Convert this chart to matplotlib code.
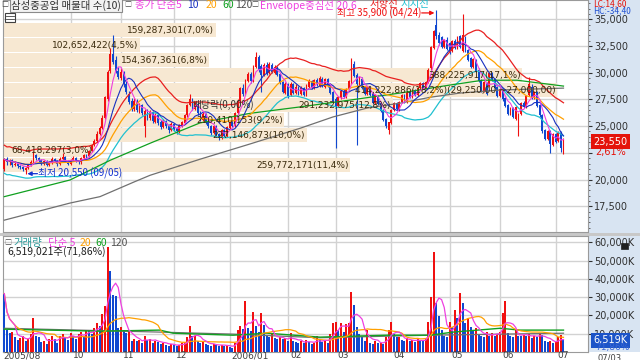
import numpy as np
import pandas as pd
import matplotlib
matplotlib.use("Agg")
import matplotlib.pyplot as plt
from matplotlib.patches import Rectangle
from matplotlib.lines import Line2D
from matplotlib.transforms import blended_transform_factory as blend

plt.rcParams['font.family'] = ['DejaVu Sans']
KR = ['Noto Sans CJK KR', 'DejaVu Sans']

# ---------------- data (prices in hundreds of won) ----------------
opens = [210,219,216,218,214,215,213,212,209,211, 214,216,223,220,218,215,217,214,216,219,
         217,215,219,221,217,215,218,220,217,216, 220,223,222,227,232,236,243,248,258,275,
         302,318,312,302,295,300,289,280,274,266, 273,264,270,250,264,258,263,254,260,254,
         249,255,251,246,252,248,245,250,253,260, 270,274,266,271,263,256,261,255,250,244,
         250,243,239,246,241,248,254,250,262,274, 286,280,292,299,292,305,315,306,298,307,
         300,307,300,304,299,291,281,289,279,289, 281,286,280,286,279,287,292,286,293,288,
         294,287,294,289,282,275,269,276,283,277, 285,290,308,298,289,294,287,280,287,280,
         272,278,272,265,257,246,253,265,272,265, 273,279,273,282,277,284,279,286,290,286,
         291,304,323,345,335,333,324,331,328,320, 330,323,334,320,332,321,314,305,312,303,
         293,283,290,288,300,294,287,278,285,276, 270,261,267,257,248,261,272,268,279,287,
         276,282,270,260,246,238,245,232,243,236, 244,230]
highs = [220,221,219,219,217,216,214,213,212,215, 218,227,224,221,219,218,218,217,221,220,
         218,221,225,222,218,219,222,221,218,221, 224,224,228,233,238,245,250,260,278,303,
         323,335,316,305,304,302,292,283,276,276, 275,272,271,266,266,265,264,262,261,256,
         257,256,252,254,253,249,252,255,261,271, 280,276,274,273,264,263,262,256,251,251,
         251,244,247,247,250,255,256,263,275,287, 289,294,301,301,307,319,317,308,309,310,
         310,309,307,306,300,292,291,290,291,290, 289,288,288,287,289,294,293,294,295,297,
         296,295,295,290,283,277,278,284,285,286, 293,314,311,300,297,296,288,288,288,281,
         280,279,273,266,258,254,266,273,273,274, 280,280,283,283,285,285,287,291,291,292,
         304,325,340,359,338,334,332,333,329,331, 332,334,335,355,334,322,315,314,313,304,
         294,292,291,301,301,295,288,286,286,277, 271,268,268,269,262,273,274,279,296,289,
         283,283,271,261,247,246,246,244,244,245, 245,239]
lows = [208,214,214,212,213,211,210,208,205.5,210, 213,215,218,216,214,214,213,213,215,216,
        213,214,218,216,214,214,217,216,215,215, 219,220,221,226,231,235,242,247,257,274,
        300,308,300,294,293,287,280,271,264,264, 263,262,260,240,256,256,253,253,251,247,
        248,248,244,245,245,243,244,249,252,259, 269,265,265,260,255,255,252,248,242,243,
        240,237,238,240,240,247,249,249,261,273, 278,279,291,290,291,304,301,282,297,298,
        299,300,299,297,289,281,280,276,278,280, 280,279,279,278,278,286,285,285,288,287,
        287,286,287,280,273,230,268,275,276,276, 284,289,296,232,288,285,279,279,278,271,
        271,270,263,255,248,243,252,264,265,264, 272,272,272,276,276,278,278,285,285,285,
        290,303,322,332,326,323,323,321,318,319, 322,322,323,319,319,311,304,304,301,291,
        282,282,279,287,292,285,277,277,274,268, 260,260,258,256,241,260,267,267,278,275,
        275,268,259,244,237,237,225,231,234,235, 226,224]
closes = [219,216,218,214,215,213,212,210,211,214, 216,223,220,218,215,217,214,216,219,217,
          215,219,221,217,215,218,220,217,216,220, 223,222,227,232,236,243,248,258,277,301,
          318,310,302,296,301,289,282,273,266,274, 265,270,262,264,258,263,255,260,253,249,
          255,250,246,252,247,245,251,254,260,270, 275,267,273,262,257,261,254,250,244,250,
          242,239,246,241,249,254,250,262,274,286, 280,293,299,292,306,315,303,298,307,300,
          308,301,305,298,290,282,289,278,289,281, 287,280,286,279,288,292,286,293,289,295,
          288,294,288,281,274,268,277,283,277,285, 292,309,297,289,295,286,280,287,279,272,
          279,271,264,256,250,254,265,272,266,273, 279,273,282,277,284,279,286,290,286,291,
          303,324,339,334,328,324,331,322,319,330, 323,333,324,335,320,312,305,313,302,292,
          283,291,280,300,293,286,278,285,275,269, 261,267,259,268,261,272,268,278,289,276,
          282,269,260,245,238,245,233,243,235,244, 229.5,235.5]
# volume in thousands of shares
volumes_k = [32000,12000,10500,11000,8000,6500,7500,9000,6000,7000,
             10000,18500,9000,8000,5500,6000,4500,7000,8500,7000,
             5000,9000,10000,8000,6500,10500,9000,7000,10000,11000,
             9000,12000,11500,10000,13000,16000,14000,21000,25000,57600,
             44500,31000,30500,13000,13600,12000,10500,11000,6000,7000,
             6000,6500,5000,8500,6500,7000,5000,6000,5500,4500,
             5200,4000,3500,4500,3800,3200,4000,4800,5600,8000,
             14000,8500,9000,6000,5000,6000,4500,4000,3500,4500,
             3800,3400,4000,3200,3800,3000,2000,5000,12000,14000,
             12500,28000,13000,11500,21700,14500,11000,21500,14700,9000,
             8000,10500,7500,7000,8000,7000,7600,6000,10500,6000,
             5500,5000,6000,5000,6500,5500,4500,5000,8500,6500,
             5500,6500,5000,10000,15700,16500,12000,16000,11000,15500,
             16000,33000,25500,13500,10000,8000,6000,12000,5000,4500,
             6000,4800,5200,4500,8000,12000,16300,10000,8000,8200,
             6500,6000,7500,6000,6500,5500,7000,6500,6000,7000,
             16300,30000,55000,27000,19500,12000,8500,8000,16300,13600,
             23000,18500,32600,26600,15700,18500,13500,12000,13000,9500,
             8700,8000,11000,9000,10500,9000,10000,11000,21200,27700,
             10300,9000,8000,12000,9000,8500,9500,8500,10000,7500,
             9000,8000,10000,9500,6000,5500,6000,5000,5500,8000,
             9072,6519.021]

# long moving averages (index, value)
ma60_idx = [0, 24.8, 39.9, 55, 73.8, 92.7, 111.6, 130.4, 149.3, 168.2, 180.6, 193.5, 211]
ma60_val = [18400, 19960, 21800, 23400, 25300, 26200, 26800, 27440, 28100, 28850, 29300, 29300, 28750]
ma120_idx = [0, 24.8, 36.1, 49.2, 55, 73.8, 92.7, 111.6, 124, 137, 149.3, 160.6, 172, 187, 211]
ma120_val = [16200, 17800, 18400, 19800, 20400, 21900, 23330, 24800, 25860, 26700, 27150, 27700, 28100, 28380, 28560]
vol_ma60_idx = [0, 36.1, 58.7, 63.7, 86.3, 99.1, 119.1, 144.4, 160.6, 169.3, 187.1, 194.6, 211]
vol_ma60_val = [12500, 11400, 12000, 10300, 9200, 10300, 8150, 9200, 9200, 10900, 13000, 12000, 12000]
vol_ma120_idx = [0, 58.7, 86.3, 119.1, 160.6, 211]
vol_ma120_val = [13000, 10900, 9800, 7800, 9200, 10300]

month_start_idx = [25, 44, 64, 85, 107, 125, 146, 168, 187, 208]
month_labels = ['10', '11', '12', '2006/01', '02', '03', '04', '05', '06', '07']
first_label = '2005/08'

# price-volume profile (bottom bin to top bin)
profile_volumes = [259772171, 68418297, 227146873, 210410153, 291232975,
                   414222886, 388225917, 154367361, 102652422, 159287301]
profile_low, profile_high = 20650, 34700
max_bin_range = [29250, 27000]

high_date, low_date, last_date = '04/24', '09/05', '07/03'
lc_text, hc_text = 'LC:14,60', 'HC:-34,40'
dividend_text = '배당락(0,00%)'

# ---------------- styling ----------------
RED, BLUE = '#f01010', '#1048d0'
MAG, MBLUE, ORG, GRN, GRY = '#ee40e0', '#1830c0', '#ffa000', '#10a020', '#707070'
ENV_UP, ENV_DN = '#e82020', '#20c0d0'
GRID = '#d2d2d2'

O = np.array(opens, float) * 100
H = np.array(highs, float) * 100
L = np.array(lows, float) * 100
C = np.array(closes, float) * 100
V = np.array(volumes_k, float)
n = len(C)
x = np.arange(n)

W, HP = 640, 360
fig = plt.figure(figsize=(6.4, 3.6), dpi=100)
def fx(px): return px / W
def fy(py): return 1 - py / HP

fig.patches.append(Rectangle((fx(589), fy(352)), fx(51), 352 / HP, transform=fig.transFigure,
                             fc='#d8e4f2', ec='none', zorder=-10))
fig.patches.append(Rectangle((0, fy(235.5)), 1, 3 / HP, transform=fig.transFigure,
                             fc='#c8c8c8', ec='none', zorder=-10))

ax = fig.add_axes([fx(3), fy(232), fx(585), 232 / HP])
axv = fig.add_axes([fx(3), fy(352), fx(585), (352 - 236) / HP])
xl = (-0.5, 220.25)
for a in (ax, axv):
    a.set_xlim(*xl)
    a.set_facecolor('white')
    for sp in a.spines.values():
        sp.set_color('#9a9a9a'); sp.set_linewidth(0.8)
    a.set_xticks(month_start_idx)
    a.tick_params(axis='x', length=0, labelbottom=False)
    a.grid(axis='x', color=GRID, lw=1.0, zorder=0)
    a.set_axisbelow(True)

ax.set_ylim(15090, 36810)
axv.set_ylim(0, 63560)

# volume profile
edges = np.linspace(profile_low, profile_high, len(profile_volumes) + 1)
centers = (edges[:-1] + edges[1:]) / 2
pv = np.array(profile_volumes, float)
pct = pv / pv.sum() * 100
span = xl[1] - xl[0]
lens = pv / pv.max() * span * 0.947
ax.barh(centers, lens, left=xl[0], height=(edges[1] - edges[0]) * 0.92,
        color='#f7e8d2', zorder=1)
for c, ln, v, p in zip(centers, lens, profile_volumes, pct):
    lab = f"{v:,}({p:.1f}%)".replace('.', ',')
    if v == max(profile_volumes):
        r0 = f"{max_bin_range[0]:,.2f}".replace('.', ',')
        r1 = f"{max_bin_range[1]:,.2f}".replace('.', ',')
        lab += f"({r0} ~{r1})"
    ax.text(xl[0] + ln - 0.6, c, lab, ha='right', va='center', fontsize=6.5,
            color='#3a2a0c', zorder=6)

# candles
up = C >= O
col = np.where(up, RED, BLUE)
ax.vlines(x, L, H, colors=col, lw=0.8, zorder=3)
ax.bar(x, np.maximum(np.abs(C - O), 40), bottom=np.minimum(O, C), width=0.7,
       color=col, linewidth=0, zorder=3)

s = pd.Series(C)
ma5 = s.rolling(5, min_periods=1).mean()
ma10 = s.rolling(10, min_periods=1).mean()
ma20 = s.rolling(20, min_periods=1).mean()
ax.plot(x, ma20 * 1.06, color=ENV_UP, lw=0.9, zorder=4)
ax.plot(x, ma20 * 0.94, color=ENV_DN, lw=0.9, zorder=4)
ax.plot(ma120_idx, ma120_val, color=GRY, lw=0.9, zorder=4)
ax.plot(ma60_idx, ma60_val, color=GRN, lw=0.9, zorder=4)
ax.plot(x, ma20, color=ORG, lw=0.9, zorder=4)
ax.plot(x, ma10, color=MBLUE, lw=0.8, zorder=4)
ax.plot(x, ma5, color=MAG, lw=0.8, zorder=4)

# price axis
yt = np.arange(17500, 35001, 2500)
ax.set_yticks(yt)
ax.set_yticklabels(['' if v == 22500 else f"{v:,}" for v in yt])
ax.set_yticks(np.arange(15500, 36501, 500), minor=True)
ax.yaxis.tick_right()
ax.tick_params(axis='y', which='major', direction='out', length=3, pad=1.5,
               labelsize=7, colors='#303030')
ax.tick_params(axis='y', which='minor', direction='out', length=1.5, colors='#505050')
ax.grid(axis='y', which='major', color=GRID, lw=1.0, zorder=0)

# high / low markers
imax = int(np.argmax(H)); imin = int(np.argmin(L))
yv = H[imax] - 300
ax.annotate('', xy=(imax - 0.7, yv), xytext=(imax - 5.5, yv),
            arrowprops=dict(arrowstyle='-|>', color=RED, lw=0.9, mutation_scale=6,
                            shrinkA=0, shrinkB=0), zorder=7)
ax.text(imax - 5.8, yv, f"최고 {H[imax]:,.0f} ({high_date})", ha='right', va='center',
        fontsize=7, color=RED, family=KR, zorder=7)
ax.annotate('', xy=(imin + 0.7, L[imin]), xytext=(imin + 4.5, L[imin]),
            arrowprops=dict(arrowstyle='-|>', color='#1030d0', lw=0.9, mutation_scale=6,
                            shrinkA=0, shrinkB=0), zorder=7)
ax.text(imin + 4.8, L[imin], f"최저 {L[imin]:,.0f} ({low_date})", ha='left', va='center',
        fontsize=7, color='#1030d0', family=KR, zorder=7)
ax.text(71, 26980, dividend_text, ha='left', va='center', fontsize=7, color='#303030',
        family=KR, zorder=7)

# right-side price box
trR = blend(ax.transAxes, ax.transData)
ax.text(1.0 + 5 / 585, C[-1], f"{C[-1]:,.0f}", transform=trR, ha='left', va='center',
        fontsize=7, color='white', clip_on=False, zorder=10,
        bbox=dict(boxstyle='square,pad=0.25', fc='#e4130b', ec='none'))
chg = (C[-1] / C[-2] - 1) * 100
ax.text(1.0 + 7 / 585, C[-1] - 1000, f"{chg:.2f}%".replace('.', ','), transform=trR,
        ha='left', va='center', fontsize=7, color='#e4130b', clip_on=False, zorder=10)

# volume
vcol = [BLUE] + [RED if V[i] > V[i - 1] else BLUE for i in range(1, n)]
axv.bar(x, V, width=0.75, color=vcol, linewidth=0, zorder=3)
vs = pd.Series(V)
axv.plot(vol_ma120_idx, vol_ma120_val, color=GRY, lw=0.9, zorder=4)
axv.plot(vol_ma60_idx, vol_ma60_val, color=GRN, lw=1.0, zorder=4)
axv.plot(x, vs.rolling(20, min_periods=1).mean(), color=ORG, lw=0.9, zorder=4)
axv.plot(x, vs.rolling(5, min_periods=1).mean(), color=MAG, lw=0.9, zorder=4)
vt = np.arange(10000, 60001, 10000)
axv.set_yticks(vt)
axv.set_yticklabels([f"{v:,}K" for v in vt])
axv.yaxis.tick_right()
axv.tick_params(axis='y', direction='out', length=3, pad=1.5, labelsize=7, colors='#303030')
axv.grid(axis='y', color=GRID, lw=1.0, zorder=0)

trV = blend(axv.transAxes, axv.transData)
axv.text(1.0 + 5 / 585, V[-1], f"{V[-1]:,.0f}K", transform=trV, ha='left', va='center',
         fontsize=7, color='white', clip_on=False, zorder=10,
         bbox=dict(boxstyle='square,pad=0.25', fc='#1c54c8', ec='none'))
vchg = V[-1] / V[-2] * 100
axv.text(1.0 + 7 / 585, V[-1] - 4200, f"{vchg:.2f}%".replace('.', ','), transform=trV,
         ha='left', va='center', fontsize=6.5, color='#3a66d6', clip_on=False, zorder=10)

# x labels along the bottom
trX = blend(axv.transData, fig.transFigure)
axv.text(-0.3, fy(351.5), first_label, transform=trX, ha='left', va='top', fontsize=6.5,
         color='#404040', clip_on=False)
for i, lab in zip(month_start_idx, month_labels):
    axv.text(i + 0.8, fy(351.5), lab, transform=trX, ha='left', va='top', fontsize=6.5,
             color='#404040', clip_on=False)
fig.text(fx(597), fy(353.5), last_date, ha='left', va='top', fontsize=6, color='#404040')

# legends
def t(px, py, s, color, size=7.5, family=KR, **kw):
    fig.text(fx(px), fy(py), s, color=color, fontsize=size, family=family,
             ha='left', va='center', **kw)

t(1, 5, '□', '#505050', size=5)
t(11, 5, '삼성중공업 매물대 수(10)', '#303030',
  bbox=dict(boxstyle='square,pad=0.1', fc='#f2f2f2', ec='#8a8a8a', lw=0.8))
t(124, 5, '□', '#505050', size=5)
t(135, 5, '종가 단순', MAG)
t(176, 5, '5', MAG)
t(187, 5, '10', MBLUE)
t(206, 5, '20', ORG)
t(222, 5, '60', GRN)
t(235, 5, '120', '#505050')
t(251, 5, '□', '#505050', size=5)
t(260, 5, 'Envelope중심선 20,6', MAG)
t(370, 4, '저항선', ENV_UP)
t(400, 4, '지지선', ENV_DN)
t(593, 3.5, lc_text, '#e4130b', size=6)
t(593, 11, hc_text, '#2050d0', size=6)

t(4, 243, '□', '#505050', size=5)
t(13, 243, '거래량', '#2a9a9a')
t(48, 243, '단순 5', MAG)
t(80, 243, '20', ORG)
t(95, 243, '60', GRN)
t(110, 243, '120', '#505050')
t(7, 252, f"{int(round(V[-1] * 1000)):,}주({vchg:.2f}%)".replace('.', ','), '#202020')

# small icons
fig.patches.append(Rectangle((fx(5), fy(22)), fx(10), 9 / HP, transform=fig.transFigure,
                             fc='white', ec='#404040', lw=0.8, zorder=5))
for yy in (16, 19):
    fig.lines.append(Line2D([fx(6), fx(14)], [fy(yy), fy(yy)], transform=fig.transFigure,
                            color='#404040', lw=0.6, zorder=6))
fig.patches.append(Rectangle((fx(621), fy(249)), fx(7), 6 / HP, transform=fig.transFigure,
                             fc='#202020', ec='#202020', lw=0.5, zorder=5))

fig.savefig('out.png', dpi=100)
